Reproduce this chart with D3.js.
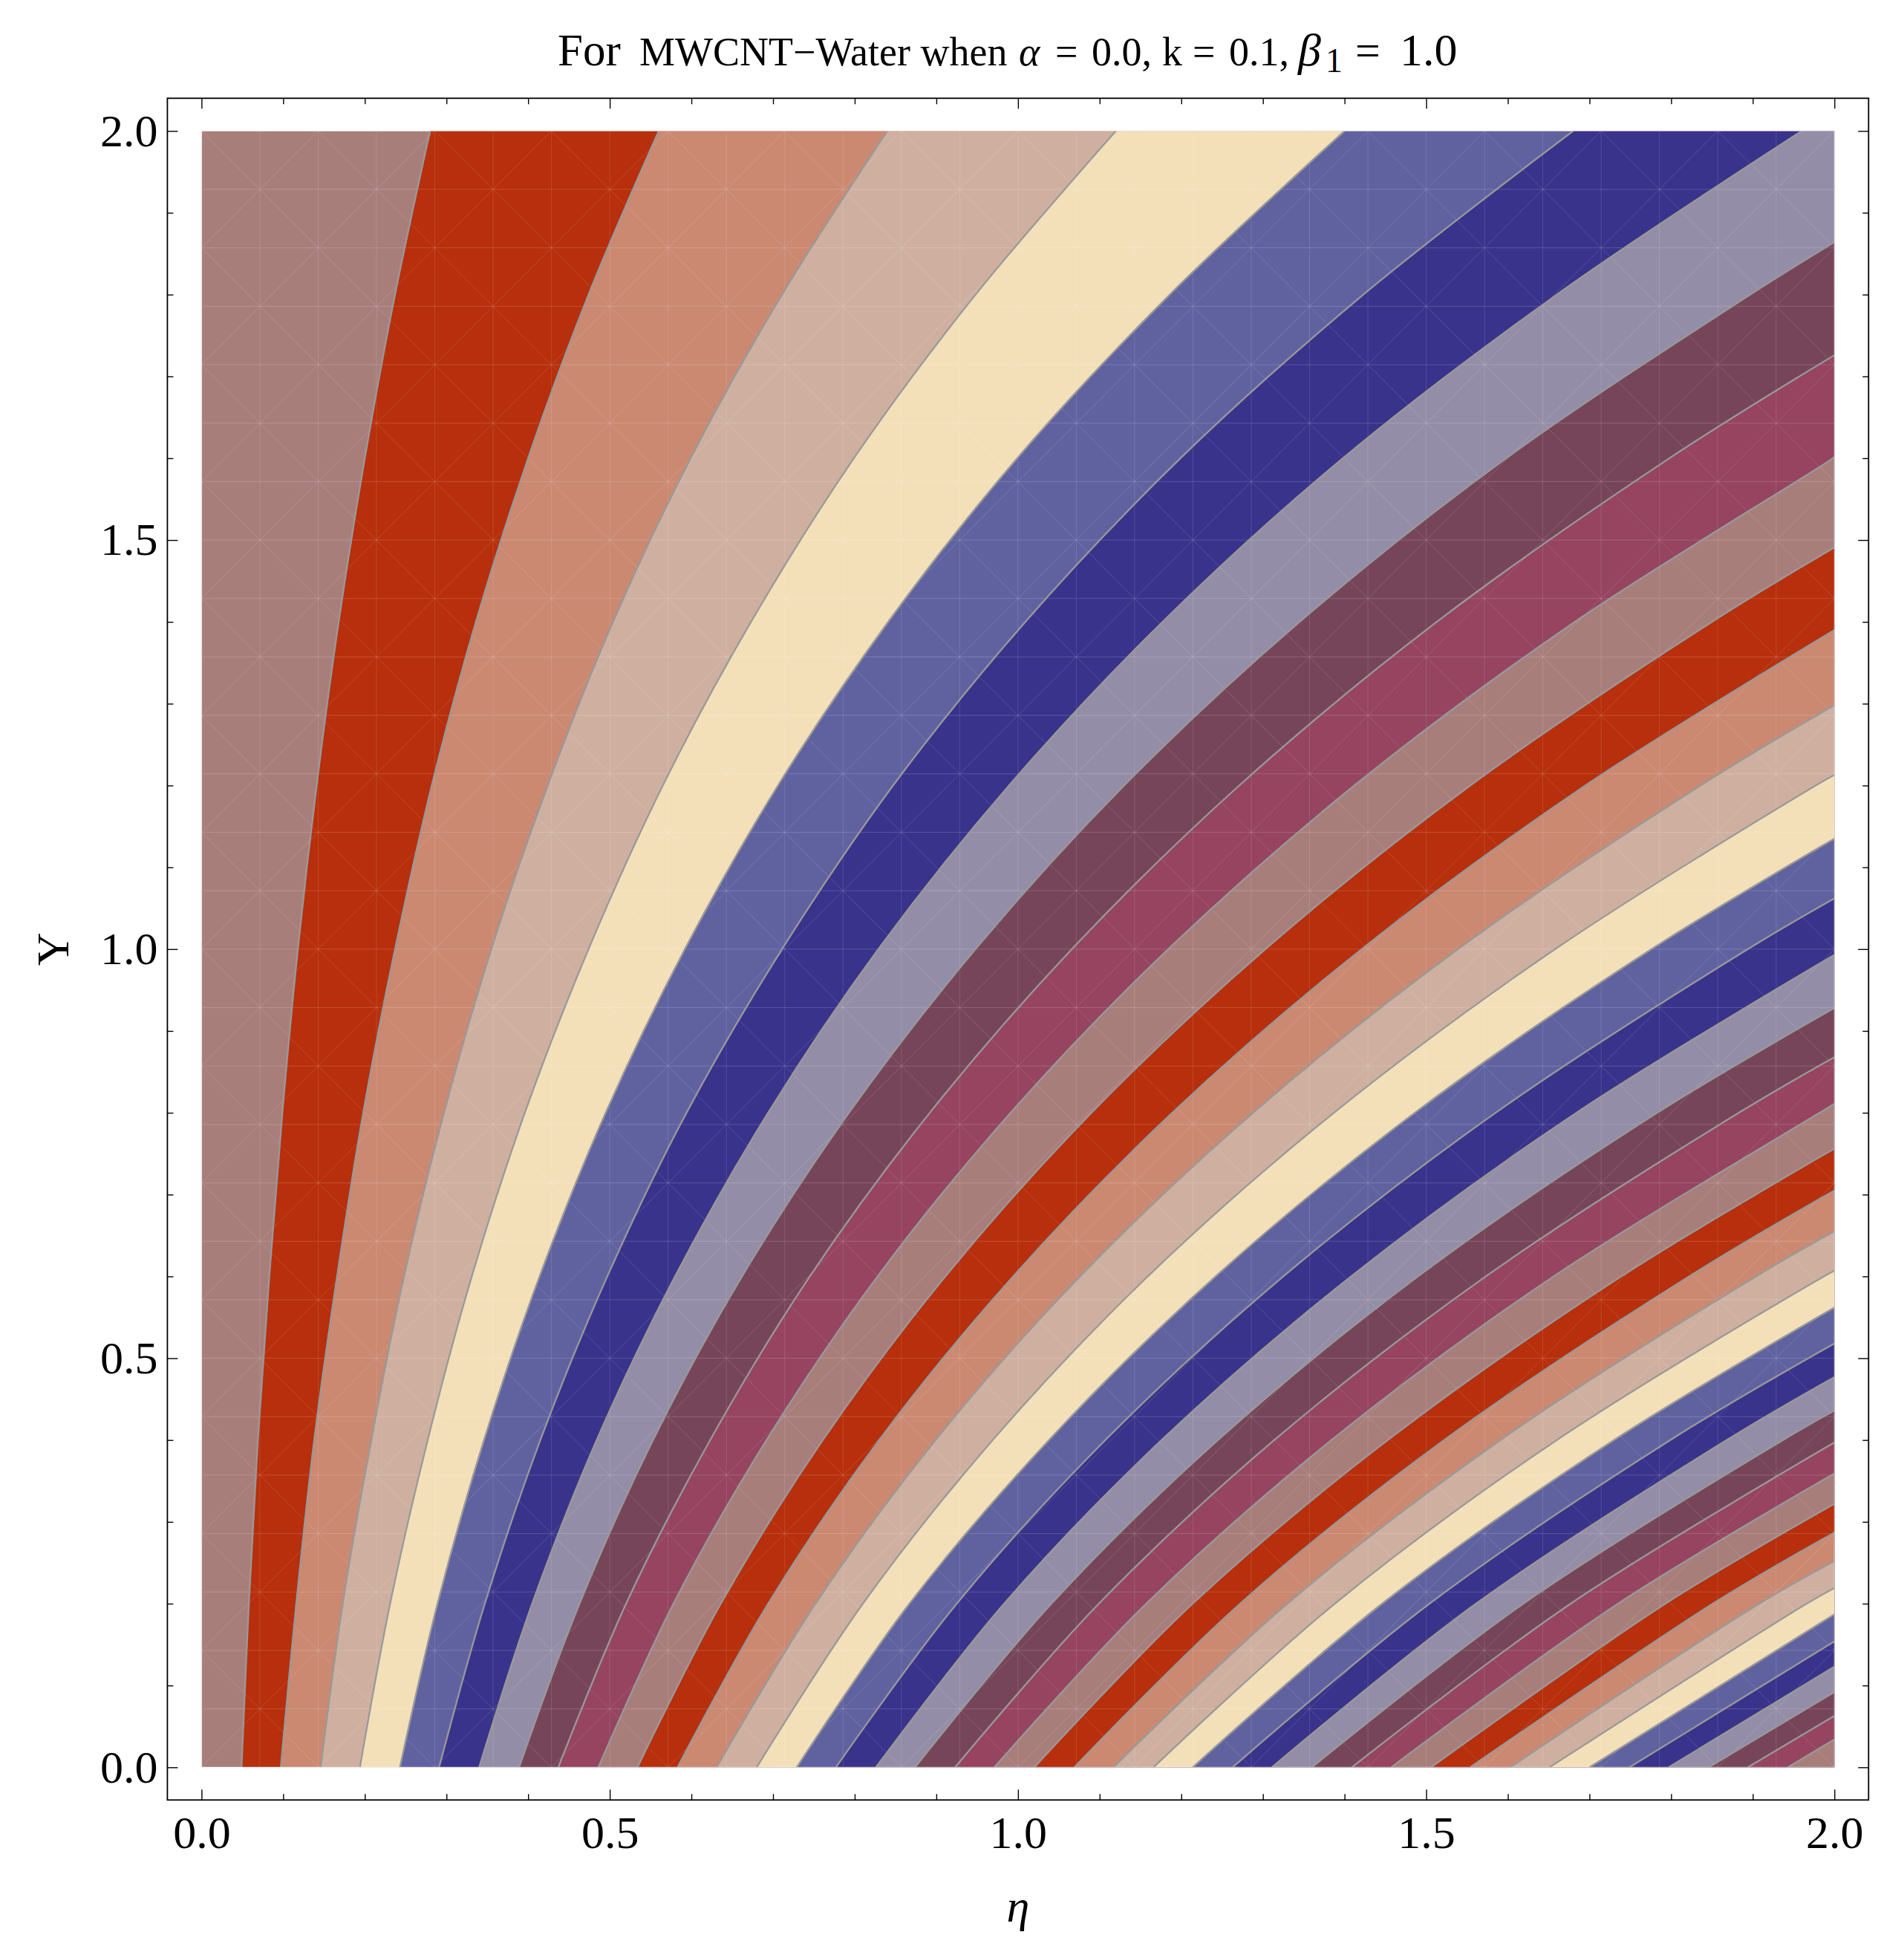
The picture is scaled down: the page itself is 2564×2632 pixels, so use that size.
<!DOCTYPE html>
<html>
<head>
<meta charset="utf-8">
<script src="https://cdnjs.cloudflare.com/ajax/libs/d3/7.8.5/d3.min.js"></script>
<style>
  body { margin: 0; background: #fff; }
  text { font-family: "Liberation Serif", serif; fill: #000; }
</style>
</head>
<body>
<script>
// Y levels at which the contours were read
var yLevels = [0, 0.2, 0.4, 0.6, 0.8, 1.0, 1.2, 1.4, 1.6, 1.8, 2.0];

// eta of each contour line (1st, 2nd, ...) on each Y level, inside the plot only
var etaY00 = [0.049, 0.097, 0.146, 0.194, 0.243, 0.291, 0.340, 0.389, 0.437, 0.486, 0.534, 0.583, 0.631, 0.680, 0.729, 0.777, 0.826, 0.874, 0.923, 0.971, 1.020, 1.069, 1.117, 1.166, 1.214, 1.263, 1.311, 1.360, 1.409, 1.457, 1.506, 1.554, 1.603, 1.651, 1.700, 1.749, 1.797, 1.846, 1.894, 1.943];
var etaY02 = [0.058, 0.116, 0.173, 0.231, 0.289, 0.347, 0.405, 0.463, 0.520, 0.578, 0.636, 0.694, 0.752, 0.810, 0.867, 0.925, 0.983, 1.041, 1.099, 1.157, 1.214, 1.272, 1.330, 1.388, 1.446, 1.504, 1.561, 1.619, 1.677, 1.735, 1.793, 1.851, 1.908, 1.966];
var etaY04 = [0.069, 0.138, 0.208, 0.277, 0.346, 0.415, 0.484, 0.553, 0.623, 0.692, 0.761, 0.830, 0.899, 0.969, 1.038, 1.107, 1.176, 1.245, 1.314, 1.384, 1.453, 1.522, 1.591, 1.660, 1.730, 1.799, 1.868, 1.937];
var etaY06 = [0.083, 0.166, 0.248, 0.331, 0.414, 0.497, 0.580, 0.662, 0.745, 0.828, 0.911, 0.994, 1.076, 1.159, 1.242, 1.325, 1.408, 1.490, 1.573, 1.656, 1.739, 1.822, 1.904, 1.987];
var etaY08 = [0.099, 0.198, 0.297, 0.396, 0.495, 0.594, 0.694, 0.793, 0.892, 0.991, 1.090, 1.189, 1.288, 1.387, 1.486, 1.585, 1.684, 1.783, 1.883, 1.982];
var etaY10 = [0.118, 0.237, 0.355, 0.474, 0.592, 0.711, 0.829, 0.948, 1.066, 1.184, 1.303, 1.421, 1.539, 1.658, 1.776, 1.894];
var etaY12 = [0.141, 0.282, 0.424, 0.565, 0.706, 0.847, 0.989, 1.130, 1.271, 1.412, 1.554, 1.695, 1.836, 1.977];
var etaY14 = [0.168, 0.336, 0.504, 0.673, 0.841, 1.009, 1.177, 1.345, 1.513, 1.682, 1.850];
var etaY16 = [0.200, 0.400, 0.599, 0.799, 0.999, 1.199, 1.398, 1.598, 1.798, 1.998];
var etaY18 = [0.237, 0.474, 0.711, 0.948, 1.186, 1.423, 1.660, 1.897];
var etaY20 = [0.280, 0.560, 0.840, 1.120, 1.400, 1.680, 1.960];
var etaRows = [etaY00, etaY02, etaY04, etaY06, etaY08, etaY10, etaY12, etaY14, etaY16, etaY18, etaY20];

// Y where contours 8 to 40 leave through the right edge (eta = 2)
var rightEdgeY = [1.864, 1.726, 1.602, 1.491, 1.390, 1.298, 1.213, 1.135, 1.062, 0.993, 0.928, 0.868, 0.811, 0.756, 0.705, 0.655, 0.607, 0.562, 0.518, 0.477, 0.436, 0.397, 0.359, 0.322, 0.287, 0.252, 0.219, 0.187, 0.154, 0.123, 0.092, 0.063, 0.034];

// band colours, repeating from the left
var bandColors = ["#A87E7B", "#B72F0C", "#CB8972", "#CFB0A0", "#F3E0B9", "#6062A0", "#3A338C", "#948DA7", "#774559", "#964460"];

var majorTicks = [0, 0.5, 1, 1.5, 2];
var minorTicks = [0.1, 0.2, 0.3, 0.4, 0.6, 0.7, 0.8, 0.9, 1.1, 1.2, 1.3, 1.4, 1.6, 1.7, 1.8, 1.9];

var width = 2564,
    height = 2632,
    frame = {left: 225.4, right: 2516.3, top: 132.3, bottom: 2423.3};

var x = d3.scaleLinear().domain([0, 2]).range([271.4, 2470.3]);
var y = d3.scaleLinear().domain([0, 2]).range([2379.3, 176.3]);

var svg = d3.select("body").append("svg")
    .attr("width", width)
    .attr("height", height)
    .style("display", "block");

svg.append("defs").append("clipPath").attr("id", "plot")
  .append("rect")
    .attr("x", x(0)).attr("y", y(2))
    .attr("width", x(2) - x(0)).attr("height", y(0) - y(2));

// collect the points of every contour, bottom to top
var contours = etaY00.map(function(d, n) {
    var pts = [];
    etaRows.forEach(function(row, i) {
        if (n < row.length) pts.push([row[n], yLevels[i]]);
    });
    if (n >= 7) pts.push([2, rightEdgeY[n - 7]]);
    return pts;
});

var contourLine = d3.line()
    .x(function(d) { return x(d[0]); })
    .y(function(d) { return y(d[1]); })
    .curve(d3.curveCatmullRom.alpha(0.5));

var plot = svg.append("g").attr("clip-path", "url(#plot)");

plot.append("rect")
    .attr("x", x(0)).attr("y", y(2))
    .attr("width", x(2) - x(0)).attr("height", y(0) - y(2))
    .attr("fill", bandColors[0]);

// each band covers everything to the right of its contour, the next one paints over it
plot.selectAll("path.band")
    .data(contours)
    .enter().append("path")
    .attr("class", "band")
    .attr("fill", function(d, i) { return bandColors[(i + 1) % bandColors.length]; })
    .attr("d", function(d) {
        var last = d[d.length - 1];
        var corner = last[1] === 2 ? "L" + [x(2), y(2)] : "";
        return contourLine(d) + corner + "L" + [x(2), y(0)] + "Z";
    });

// seams of the plot mesh
var meshCount = 28,
    meshV = function(i) { return i / 14; };

var hPath = "", vPath = "", dPath = "";
d3.range(meshCount + 1).forEach(function(i) {
    hPath += "M" + [x(0), y(meshV(i))] + "L" + [x(2), y(meshV(i))];
    vPath += "M" + [x(meshV(i)), y(0)] + "L" + [x(meshV(i)), y(2)];
});
d3.range(meshCount).forEach(function(i) {
    d3.range(meshCount).forEach(function(j) {
        if ((i + j) % 2 === 0) {
            dPath += "M" + [x(meshV(i)), y(meshV(j))] + "L" + [x(meshV(i + 1)), y(meshV(j + 1))];
        } else {
            dPath += "M" + [x(meshV(i + 1)), y(meshV(j))] + "L" + [x(meshV(i)), y(meshV(j + 1))];
        }
    });
});

plot.append("path").attr("d", hPath).attr("fill", "none")
    .attr("stroke", "#fff").attr("stroke-opacity", 0.17).attr("stroke-width", 1);
plot.append("path").attr("d", vPath).attr("fill", "none")
    .attr("stroke", "#fff").attr("stroke-opacity", 0.12).attr("stroke-width", 1);
plot.append("path").attr("d", dPath).attr("fill", "none")
    .attr("stroke", "#fff").attr("stroke-opacity", 0.14).attr("stroke-width", 1);

plot.selectAll("path.contour")
    .data(contours)
    .enter().append("path")
    .attr("class", "contour")
    .attr("fill", "none")
    .attr("stroke", "#999")
    .attr("stroke-width", 2.3)
    .attr("d", contourLine);

// light edge around the filled region
svg.append("rect")
    .attr("x", x(0)).attr("y", y(2))
    .attr("width", x(2) - x(0)).attr("height", y(0) - y(2))
    .attr("fill", "none")
    .attr("stroke", "#fff")
    .attr("stroke-opacity", 0.35)
    .attr("stroke-width", 1.5);

svg.append("rect")
    .attr("x", frame.left).attr("y", frame.top)
    .attr("width", frame.right - frame.left).attr("height", frame.bottom - frame.top)
    .attr("fill", "none")
    .attr("stroke", "#000")
    .attr("stroke-width", 1.8);

// ticks on all four sides, labels only bottom and left
function styleAxis(g, hasLabels) {
    g.select(".domain").remove();
    g.selectAll(".tick line").attr("stroke", "#000").attr("stroke-width", 1.4);
    if (hasLabels) g.selectAll("text").attr("font-size", 62).style("font-family", '"Liberation Serif", serif');
}

function addAxes(makeAxis, scale, transform, labelled, padding) {
    svg.append("g").attr("transform", transform)
        .call(makeAxis(scale).tickValues(minorTicks).tickSize(-8).tickFormat(""))
        .call(styleAxis, false);
    var major = makeAxis(scale).tickValues(majorTicks).tickSize(-14);
    if (labelled) major.tickFormat(d3.format(".1f")).tickPadding(padding);
    else major.tickFormat("");
    svg.append("g").attr("transform", transform)
        .call(major)
        .call(styleAxis, labelled);
}

addAxes(d3.axisBottom, x, "translate(0," + frame.bottom + ")", true, 21);
addAxes(d3.axisTop, x, "translate(0," + frame.top + ")", false);
addAxes(d3.axisLeft, y, "translate(" + frame.left + ",0)", true, 13);
addAxes(d3.axisRight, y, "translate(" + frame.right + ",0)", false);

// axis titles
svg.append("text")
    .attr("x", x(1)).attr("y", 2587)
    .attr("text-anchor", "middle")
    .attr("font-size", 62)
    .attr("font-style", "italic")
    .text("η");

svg.append("text")
    .attr("transform", "translate(92," + y(1) + ") rotate(-90)")
    .attr("text-anchor", "middle")
    .attr("font-size", 62)
    .text("Y");

// title, placed piece by piece because the sizes change along it
function titlePiece(str, px, size, italic, base) {
    svg.append("text")
        .attr("x", px)
        .attr("y", base || 88)
        .attr("font-size", size)
        .attr("font-style", italic ? "italic" : "normal")
        .text(str);
}

titlePiece("For", 751, 61);
titlePiece("MWCNT−Water when", 861, 54);
titlePiece("α", 1372, 54, true);
titlePiece("=", 1421, 54);
titlePiece("0.0,", 1470, 54);
titlePiece("k", 1565, 54);
titlePiece("=", 1606, 54);
titlePiece("0.1,", 1655, 54);
titlePiece("β", 1748, 62, true);
titlePiece("1", 1785, 46, false, 97);
titlePiece("=", 1825, 60);
titlePiece("1.0", 1885, 62);
</script>
</body>
</html>
